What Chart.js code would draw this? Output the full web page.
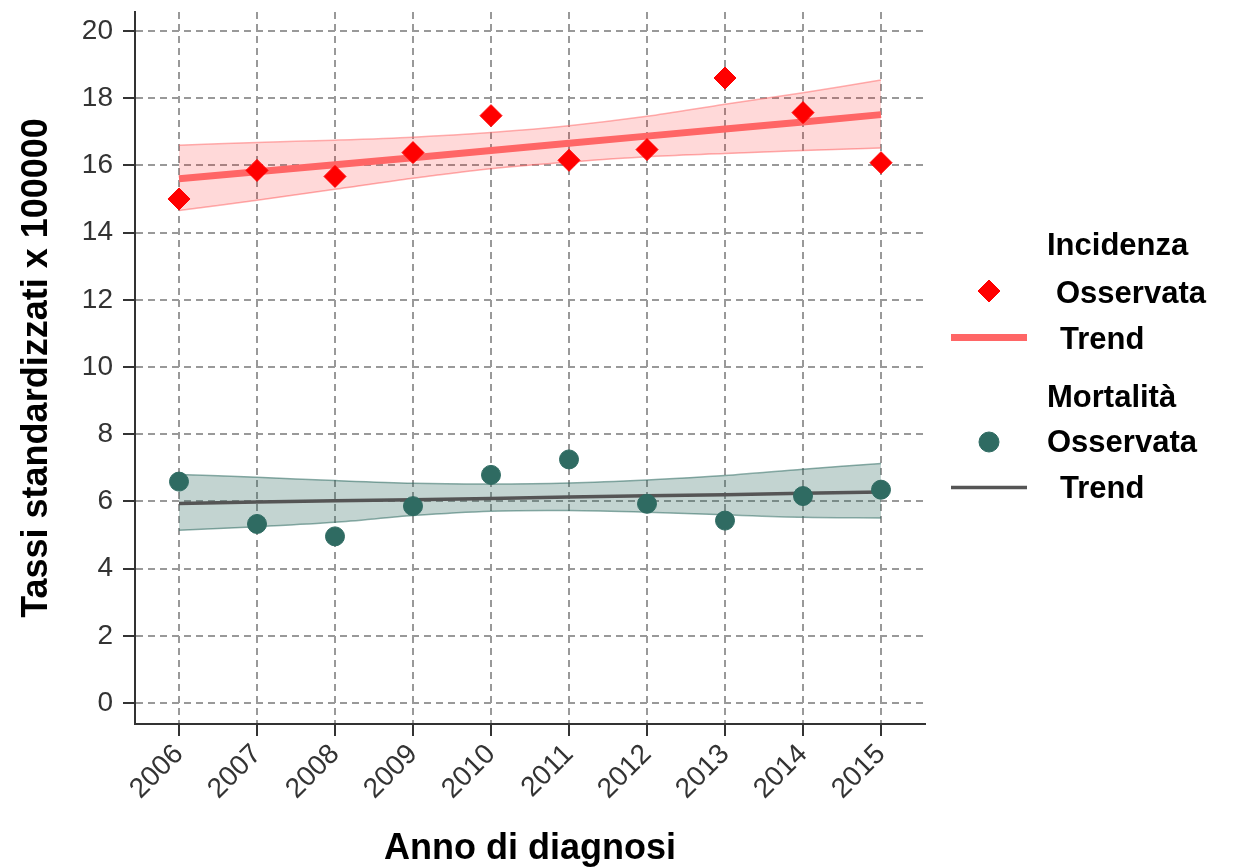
<!DOCTYPE html>
<html lang="it">
<head>
<meta charset="utf-8">
<title>Tassi standardizzati: incidenza e mortalità 2006-2015</title>
<script src="https://cdn.jsdelivr.net/npm/chart.js@4/dist/chart.umd.min.js"></script>
<style>
  html, body { margin: 0; padding: 0; background: #ffffff; }
  #wrap { position: relative; width: 1238px; height: 868px; }
</style>
</head>
<body>
<div id="wrap"><canvas id="grafico" width="1238" height="868"></canvas></div>
<script>
// Anni di diagnosi
const anni = [2006, 2007, 2008, 2009, 2010, 2011, 2012, 2013, 2014, 2015];
const yTicks = [0, 2, 4, 6, 8, 10, 12, 14, 16, 18, 20];

// Incidenza: tassi osservati, retta di tendenza e intervallo di confidenza
const incidenzaOsservata = [15.00, 15.85, 15.67, 16.38, 17.48, 16.15, 16.47, 18.60, 17.57, 16.08];
const incidenzaTrend     = [15.60, 15.81, 16.02, 16.23, 16.44, 16.66, 16.87, 17.08, 17.29, 17.51];
const incidenzaSup       = [16.60, 16.68, 16.75, 16.84, 16.98, 17.18, 17.46, 17.82, 18.16, 18.54];
const incidenzaInf       = [14.66, 14.96, 15.29, 15.62, 15.90, 16.10, 16.26, 16.35, 16.44, 16.52];

// Mortalità: tassi osservati, retta di tendenza e intervallo di confidenza
const mortalitaOsservata = [6.59, 5.33, 4.96, 5.86, 6.79, 7.25, 5.93, 5.43, 6.16, 6.35];
const mortalitaTrend     = [5.94, 5.98, 6.02, 6.05, 6.09, 6.13, 6.17, 6.20, 6.24, 6.28];
const mortalitaSup       = [6.80, 6.72, 6.62, 6.54, 6.52, 6.55, 6.64, 6.77, 6.96, 7.13];
const mortalitaInf       = [5.14, 5.25, 5.38, 5.58, 5.71, 5.73, 5.68, 5.60, 5.53, 5.51];

// Voci della legenda
const legendaGruppi = ['Incidenza', 'Mortalità'];
const legendaVoci = ['Osservata', 'Trend'];

const ROSSO = '#ff0000';
const SALMONE = '#ff6666';
const VERDE = '#2f6b62';
const GRIGIO = '#555555';
const FONT = '"Liberation Sans", Arial, Helvetica, sans-serif';

const punti = (vals) => anni.map((a, i) => ({ x: a, y: vals[i] }));

const fascia = (vals, fill, bordo, riempimento) => ({
  type: 'line',
  data: punti(vals),
  borderColor: bordo,
  borderWidth: 1.5,
  backgroundColor: riempimento,
  pointRadius: 0,
  fill: fill,
  tension: 0.3,
  order: 3
});

const data = {
  datasets: [
    fascia(incidenzaSup, '+1', 'rgba(255,110,110,0.55)', 'rgba(255,0,0,0.15)'),
    fascia(incidenzaInf, false, 'rgba(255,110,110,0.55)', 'rgba(255,0,0,0.15)'),
    {
      type: 'line', data: punti(incidenzaTrend), borderColor: SALMONE, borderWidth: 7,
      pointRadius: 0, fill: false, order: 2
    },
    {
      type: 'line', data: punti(incidenzaOsservata), showLine: false, pointStyle: 'rectRot',
      pointRadius: 11, pointBackgroundColor: ROSSO, pointBorderColor: ROSSO, pointBorderWidth: 1, order: 1
    },
    fascia(mortalitaSup, '+1', 'rgba(47,107,98,0.55)', 'rgba(47,107,98,0.29)'),
    fascia(mortalitaInf, false, 'rgba(47,107,98,0.55)', 'rgba(47,107,98,0.29)'),
    {
      type: 'line', data: punti(mortalitaTrend), borderColor: GRIGIO, borderWidth: 3.5,
      pointRadius: 0, fill: false, order: 2
    },
    {
      type: 'line', data: punti(mortalitaOsservata), showLine: false, pointStyle: 'circle',
      pointRadius: 9.5, pointBackgroundColor: VERDE, pointBorderColor: VERDE, pointBorderWidth: 1, order: 1
    }
  ]
};

// Legenda a gruppi disegnata a destra dell'area del grafico
const legendaGruppata = {
  id: 'legendaGruppata',
  afterDraw(chart) {
    const ctx = chart.ctx;
    ctx.save();
    ctx.fillStyle = '#000000';
    ctx.textAlign = 'left';
    ctx.textBaseline = 'alphabetic';
    ctx.font = 'bold 31px ' + FONT;

    // Incidenza
    ctx.fillText(legendaGruppi[0], 1047, 255);
    ctx.fillStyle = ROSSO;
    ctx.strokeStyle = ROSSO;
    ctx.lineWidth = 1;
    Chart.helpers.drawPoint(ctx, { pointStyle: 'rectRot', radius: 11, borderWidth: 1 }, 989, 291);
    ctx.fillStyle = '#000000';
    ctx.fillText(legendaVoci[0], 1056, 303);
    ctx.beginPath();
    ctx.strokeStyle = SALMONE;
    ctx.lineWidth = 7;
    ctx.moveTo(951, 337.5);
    ctx.lineTo(1027, 337.5);
    ctx.stroke();
    ctx.fillText(legendaVoci[1], 1060, 349);

    // Mortalità
    ctx.fillText(legendaGruppi[1], 1047, 407);
    ctx.fillStyle = VERDE;
    ctx.strokeStyle = VERDE;
    ctx.lineWidth = 1;
    Chart.helpers.drawPoint(ctx, { pointStyle: 'circle', radius: 10, borderWidth: 1 }, 989, 442);
    ctx.fillStyle = '#000000';
    ctx.fillText(legendaVoci[0], 1047, 452);
    ctx.beginPath();
    ctx.strokeStyle = GRIGIO;
    ctx.lineWidth = 3.5;
    ctx.moveTo(951, 487.5);
    ctx.lineTo(1027, 487.5);
    ctx.stroke();
    ctx.fillText(legendaVoci[1], 1060, 498);
    ctx.restore();
  }
};

const griglia = {
  color: '#999999',
  lineWidth: 2,
  drawTicks: true,
  tickLength: 12,
  tickColor: '#333333',
  tickWidth: 2
};

new Chart(document.getElementById('grafico'), {
  type: 'line',
  data: data,
  plugins: [legendaGruppata],
  options: {
    responsive: false,
    animation: false,
    events: [],
    layout: { padding: { top: 10, right: 313, left: 0, bottom: 0 } },
    plugins: {
      legend: { display: false },
      tooltip: { enabled: false },
      filler: { propagate: false }
    },
    scales: {
      x: {
        type: 'linear',
        min: 2005.436,
        max: 2015.564,
        afterBuildTicks: (scale) => { scale.ticks = anni.map(v => ({ value: v })); },
        afterFit: (scale) => {
          scale.height = 144;
          scale.paddingLeft = 0;
          scale.paddingRight = 0;
        },
        grid: griglia,
        border: { display: true, color: '#333333', width: 2, dash: [7, 5] },
        ticks: {
          autoSkip: false,
          minRotation: 45,
          maxRotation: 45,
          padding: 2,
          color: '#333333',
          font: { family: FONT, size: 28 },
          callback: (v) => String(v)
        },
        title: {
          display: true,
          text: 'Anno di diagnosi',
          color: '#000000',
          font: { family: FONT, size: 36, weight: 'bold' },
          padding: { top: 0, bottom: -3 }
        }
      },
      y: {
        type: 'linear',
        min: -0.623,
        max: 20.564,
        afterBuildTicks: (scale) => { scale.ticks = yTicks.map(v => ({ value: v })); },
        afterFit: (scale) => {
          scale.width = 135;
          scale.paddingTop = 0;
          scale.paddingBottom = 0;
        },
        grid: griglia,
        border: { display: true, color: '#333333', width: 2, dash: [7, 5] },
        ticks: {
          padding: 10,
          color: '#333333',
          font: { family: FONT, size: 28 },
          callback: (v) => String(v)
        },
        title: {
          display: true,
          text: 'Tassi standardizzati x 100000',
          color: '#000000',
          font: { family: FONT, size: 36, weight: 'bold' },
          padding: { top: 15, bottom: 0 }
        }
      }
    }
  }
});
</script>
</body>
</html>
